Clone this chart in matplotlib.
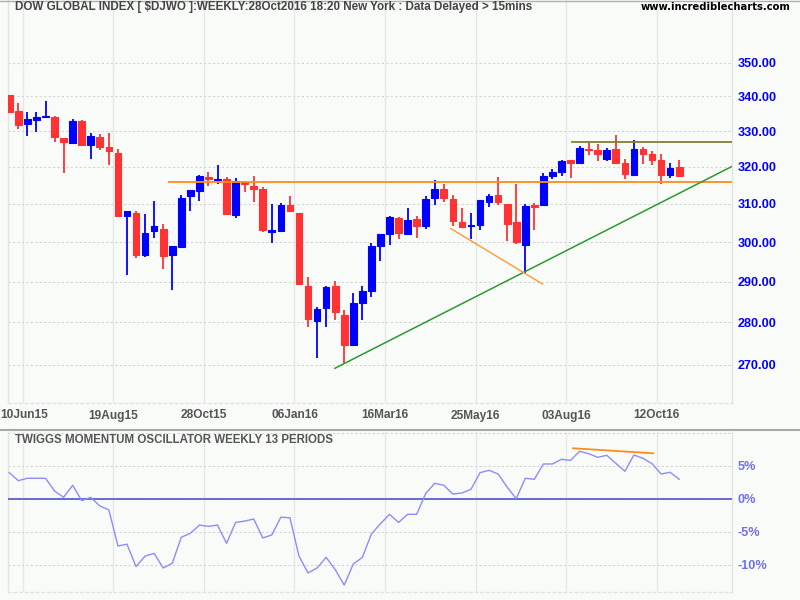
import matplotlib
matplotlib.use("Agg")
import matplotlib.pyplot as plt
from matplotlib.ticker import FixedLocator, FixedFormatter, NullLocator
from matplotlib.lines import Line2D
import numpy as np

# ---- data (weekly candles, index 0 = week of 03Jun15) ----
opens = [340.3, 335.7, 332.1, 333.2, 334.0, 334.0, 328.1, 326.5, 332.9, 326.2,
         328.3, 325.6, 323.9, 306.7, 307.7, 296.7, 302.9, 303.3, 296.7, 298.8,
         312.0, 313.4, 317.2, 316.5, 316.7, 307.0, 316.0, 314.9, 314.1, 302.7,
         302.9, 309.7, 307.6, 289.0, 280.3, 283.5, 288.8, 281.9, 274.7, 284.7,
         287.7, 299.1, 302.1, 306.2, 302.1, 306.0, 304.2, 311.5, 313.9, 311.3,
         305.3, 304.2, 304.4, 310.6, 312.3, 310.0, 305.1, 299.3, 309.6, 309.6,
         317.6, 318.7, 321.9, 321.2, 324.9, 324.7, 322.2, 325.0, 321.2, 317.9,
         325.0, 323.6, 321.9, 317.9, 320.0]
highs = [340.5, 338.0, 335.4, 335.4, 338.6, 334.2, 328.1, 333.3, 333.1, 329.5,
         329.2, 329.5, 325.0, 308.0, 308.0, 307.2, 310.8, 304.6, 299.0, 312.3,
         313.6, 317.9, 318.6, 320.6, 317.2, 316.9, 316.2, 317.6, 314.4, 310.0,
         310.2, 312.1, 307.6, 291.2, 283.7, 288.8, 290.2, 282.9, 287.1, 289.0,
         299.8, 302.1, 306.7, 306.5, 308.8, 306.7, 312.1, 316.4, 315.3, 312.3,
         309.0, 307.5, 311.0, 312.6, 317.2, 310.0, 315.3, 310.0, 310.3, 318.3,
         319.4, 321.9, 322.0, 325.8, 326.9, 326.4, 325.3, 328.9, 322.2, 327.5,
         325.6, 324.4, 323.7, 321.2, 321.8]
lows = [335.4, 330.6, 328.7, 329.8, 333.8, 326.8, 318.4, 326.5, 326.0, 322.3,
        324.8, 320.6, 306.7, 291.7, 296.0, 296.2, 301.1, 293.2, 287.9, 298.8,
        308.0, 310.8, 314.8, 315.3, 307.0, 306.2, 313.2, 310.4, 302.6, 299.8,
        302.7, 308.0, 289.1, 278.9, 271.5, 278.9, 280.5, 270.2, 274.7, 280.5,
        286.3, 295.2, 299.2, 300.8, 301.9, 301.1, 303.4, 309.6, 310.4, 304.3,
        303.9, 300.8, 303.2, 309.3, 309.6, 300.3, 299.6, 292.1, 303.2, 309.6,
        316.8, 317.6, 317.0, 321.2, 323.4, 321.5, 321.5, 320.9, 316.8, 317.9,
        320.9, 320.6, 315.4, 317.0, 317.3]
closes = [335.5, 331.8, 333.4, 334.0, 334.4, 328.4, 326.8, 332.9, 326.2, 328.6,
          325.4, 324.3, 306.7, 308.0, 296.7, 302.3, 304.1, 296.5, 299.0, 311.5,
          313.6, 317.5, 316.8, 316.7, 307.2, 316.1, 315.3, 313.9, 303.2, 303.1,
          309.7, 308.1, 289.3, 280.8, 283.2, 288.6, 282.5, 274.7, 284.6, 287.6,
          299.0, 302.1, 306.5, 302.4, 305.7, 304.2, 311.3, 313.9, 311.5, 305.6,
          303.9, 304.4, 311.0, 312.1, 310.4, 304.7, 300.1, 309.5, 309.3, 317.5,
          318.6, 321.7, 321.2, 325.3, 324.7, 323.7, 324.6, 321.2, 318.1, 325.0,
          323.7, 321.8, 317.9, 319.7, 317.6]

# Twiggs Momentum Oscillator (13 weeks), percent
momentum = [3.94, 2.73, 3.09, 3.09, 3.09, 1.17, 0.2, 2.03, -0.3, 0.2,
            -1.1, -1.7, -7.17, -6.9, -10.3, -8.7, -8.3, -10.5, -9.8, -5.85,
            -5.25, -4.0, -4.2, -4.0, -6.77, -3.6, -3.4, -3.08, -5.95, -5.5,
            -2.8, -2.9, -8.7, -11.26, -10.5, -8.9, -10.75, -13.1, -9.9, -8.9,
            -5.35, -3.8, -2.37, -3.6, -2.37, -2.37, 0.8, 2.33, 2.03, 0.7,
            0.86, 1.42, 3.94, 4.3, 3.74, 1.73, 0.0, 3.09, 2.94, 5.26,
            5.26, 5.97, 5.8, 7.18, 6.82, 6.27, 6.57, 5.36, 4.15, 6.62,
            6.12, 5.3, 3.74, 4.0, 2.94]

date_labels = ["10Jun15", "19Aug15", "28Oct15", "06Jan16",
               "16Mar16", "25May16", "03Aug16", "12Oct16"]
date_pos = [1.5, 11.5, 21.5, 31.5, 41.5, 51.5, 61.5, 71.5]

price_ticks = [270, 280, 290, 300, 310, 320, 330, 340, 350]
osc_ticks = [5, 0, -5, -10]
osc_tick_labels = ["5%", "0%", "-5%", "-10%"]

# drawn trend lines: (x0, x1), (y0, y1)
support_trend_x = [35.96, 79.8]
support_trend_y = [269.2, 320.1]
resist_h_x = [17.6, 79.8]
resist_h_y = [316.0, 316.0]
top_h_x = [62.2, 79.8]
top_h_y = [326.9, 326.9]
down_trend_x = [48.77, 58.9]
down_trend_y = [303.5, 289.4]
osc_div_x = [62.27, 71.1]
osc_div_y = [7.64, 6.88]

# ---- figure ----
W, H = 800, 600
bg = "#f9fbf9"
fig = plt.figure(figsize=(8, 6), dpi=100, facecolor=bg)

def px_rect(x0, y0, x1, y1):
    return [x0 / W, 1 - y1 / H, (x1 - x0) / W, (y1 - y0) / H]

ax = fig.add_axes(px_rect(8.3, 0, 731.7, 403))
ax2 = fig.add_axes(px_rect(8.3, 431.7, 731.7, 591.7))

XMIN, XMAX = -0.11, 79.8
n = len(opens)
x = np.arange(n)
UP, DOWN = "#0000ff", "#ff3333"
LABEL_FS = 8.6

for a in (ax, ax2):
    a.set_facecolor(bg)
    a.set_xlim(XMIN, XMAX)
    for s in a.spines.values():
        s.set_color("#e2e4e2")
        s.set_linewidth(1)
    a.spines["bottom"].set_linestyle((0, (2, 2)))
    a.spines["top"].set_visible(False)
    a.set_xticks(date_pos)
    a.tick_params(axis="x", length=0, labelbottom=False)
    a.grid(axis="x", color="#e6e8e6", linewidth=1)
    a.grid(axis="y", color="#d4d6d4", linewidth=0.8, linestyle=(0, (2, 2)))
    a.set_axisbelow(True)

# price panel
ax.set_yscale("log")
ax.set_ylim(261.3, 369.3)
ax.yaxis.set_major_locator(FixedLocator(price_ticks))
ax.yaxis.set_major_formatter(FixedFormatter([f"{t:.2f}" for t in price_ticks]))
ax.yaxis.set_minor_locator(NullLocator())
ax.yaxis.tick_right()
ax.tick_params(axis="y", length=0, pad=4, labelcolor="#0000ff")
for lab in ax.get_yticklabels():
    lab.set_fontfamily("Liberation Sans")
    lab.set_fontweight("bold")
    lab.set_fontsize(9.1)

for i in range(n):
    o, h, l, c = opens[i], highs[i], lows[i], closes[i]
    col = UP if c >= o else DOWN
    ax.vlines(x[i], l, h, color=col, linewidth=1.3, zorder=3)
    lo, hi = min(o, c), max(o, c)
    ax.bar(x[i], hi - lo, bottom=lo, width=0.74, color=col,
           edgecolor=col, linewidth=0.8, zorder=4)

ax.plot(resist_h_x, resist_h_y, color="#ff8c1a", linewidth=1.3, zorder=5)
ax.plot(top_h_x, top_h_y, color="#808030", linewidth=1.3, zorder=5)
ax.plot(support_trend_x, support_trend_y, color="#2b9a2b", linewidth=1.1, zorder=5)
ax.plot(down_trend_x, down_trend_y, color="#ff9933", linewidth=1.0, zorder=5)

# oscillator panel
ax2.set_ylim(-14.1, 10.15)
ax2.set_yticks(osc_ticks + [10])
ax2.set_yticklabels(osc_tick_labels + [""])
ax2.yaxis.tick_right()
ax2.tick_params(axis="y", length=0, pad=4, labelcolor="#7070ee")
for lab in ax2.get_yticklabels():
    lab.set_fontfamily("Liberation Sans")
    lab.set_fontweight("bold")
    lab.set_fontsize(9.1)
ax2.axhline(0, color="#6a6ad0", linewidth=1.4, zorder=3)
ax2.plot(x, momentum, color="#8c8cff", linewidth=1.0, zorder=4)
ax2.plot(osc_div_x, osc_div_y, color="#ff8c1a", linewidth=1.3, zorder=5)

# date labels
for k, (p, lab) in enumerate(zip(date_pos, date_labels)):
    xp = ax.transData.transform((p, 300))[0] / W
    if k == 0:
        fig.text(0.5 / W, 1 - 415.5 / H, lab, ha="left", va="center",
                 fontsize=LABEL_FS, fontweight="bold", color="#555555",
                 family="Liberation Sans")
    else:
        fig.text(xp, 1 - 415.5 / H, lab, ha="center", va="center",
                 fontsize=LABEL_FS, fontweight="bold", color="#555555",
                 family="Liberation Sans")

# titles
fig.text(15 / W, 1 - 7.3 / H,
         "DOW GLOBAL INDEX [ $DJWO ]:WEEKLY:28Oct2016 18:20 New York : Data Delayed > 15mins",
         ha="left", va="center", fontsize=8.4, fontweight="bold",
         color="#444444", family="Liberation Sans")
fig.text(791 / W, 1 - 7.5 / H, "www.incrediblecharts.com", ha="right", va="center",
         fontsize=7.2, fontweight="bold", color="#000000", family="DejaVu Sans")
fig.text(15 / W, 1 - 440 / H, "TWIGGS MOMENTUM OSCILLATOR WEEKLY 13 PERIODS",
         ha="left", va="center", fontsize=8.3, fontweight="bold",
         color="#555555", family="Liberation Sans")

# panel separator and top border
fig.add_artist(Line2D([0, 1], [1 - 430 / H, 1 - 430 / H], color="#a8aaa8",
                      linewidth=1.5, transform=fig.transFigure))
fig.add_artist(Line2D([0, 1], [1 - 0.5 / H, 1 - 0.5 / H], color="#b0b2b0",
                      linewidth=1.0, transform=fig.transFigure))

fig.savefig("out.png", dpi=100, facecolor=bg)
